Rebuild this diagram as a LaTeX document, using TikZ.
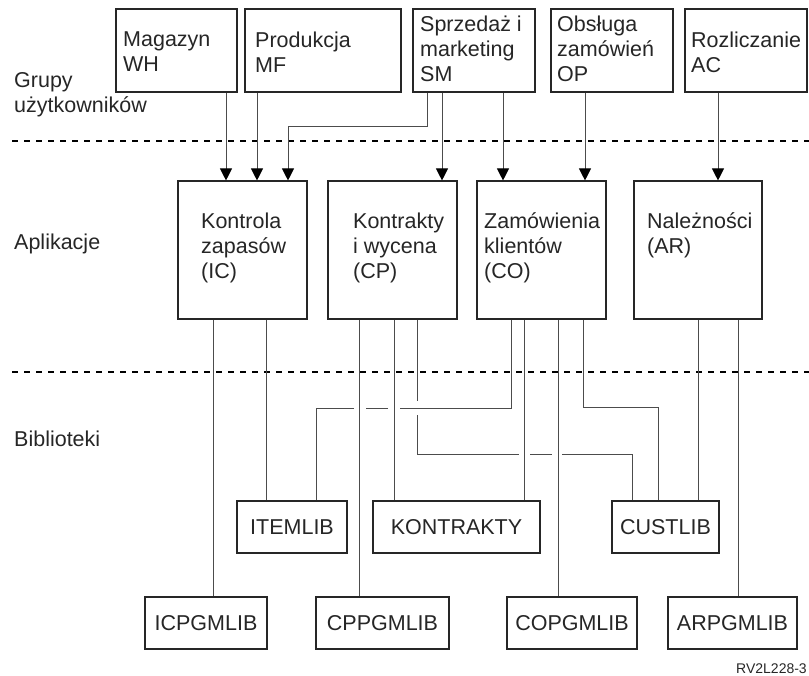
\documentclass[tikz,border=0pt]{standalone}
\usepackage{fontspec}
\setmainfont{Liberation Sans}
\usetikzlibrary{arrows.meta}
\begin{document}
\begin{tikzpicture}[x=1pt,y=-1pt,
  box/.style={draw=black!85, line width=1.1pt, fill=white, inner sep=0pt},
  txt/.style={inner sep=0pt, anchor=north west, align=left, font=\fontsize{21.5}{25}\selectfont, text=black!85},
  lib/.style={box, font=\fontsize{21.5}{25}\selectfont, text=black!85},
  conn/.style={draw=black!70, line width=1pt},
  arr/.style={conn, -{Triangle[width=12pt,length=12pt,color=black]}},
  sep/.style={draw=black, line width=1.3pt, dash pattern=on 6pt off 6pt}]
\useasboundingbox (0,0) rectangle (809,676);
% separators
\draw[sep] (12,141) -- (809,141);
\draw[sep] (12,372) -- (809,372);
% left labels
\node[txt] (lg) at (14,72.5) {Grupy\\użytkowników};
\node[txt] (la) at (14,233.5) {Aplikacje};
\node[txt] (lb) at (14,430.5) {Biblioteki};
% x positions
\coordinate (xwh) at (226,0);
\coordinate (xmf) at (257,0);
\coordinate (xsma) at (427,0);
\coordinate (xsmb) at (288,0);
\coordinate (xsmc) at (442,0);
\coordinate (xsmd) at (503,0);
\coordinate (xop) at (585,0);
\coordinate (xac) at (718,0);
\coordinate (xica) at (213,0);
\coordinate (xicb) at (266,0);
\coordinate (xcpa) at (359,0);
\coordinate (xcpb) at (394,0);
\coordinate (xcpc) at (417,0);
\coordinate (xcpd) at (632,0);
\coordinate (xcoa) at (511,0);
\coordinate (xcob) at (316,0);
\coordinate (xcoc) at (524,0);
\coordinate (xcod) at (558,0);
\coordinate (xcoe) at (583,0);
\coordinate (xcof) at (658,0);
\coordinate (xara) at (698,0);
\coordinate (xarb) at (738,0);
% boxes: user groups
\node[box, minimum width=121pt, minimum height=83pt] (wh) at (176.5,50.5) {};
\node[box, minimum width=156pt, minimum height=83pt] (mf) at (323,50.5) {};
\node[box, minimum width=122pt, minimum height=83pt] (sm) at (474,50.5) {};
\node[box, minimum width=122pt, minimum height=83pt] (op) at (612,50.5) {};
\node[box, minimum width=122pt, minimum height=83pt] (ac) at (746,50.5) {};
% applications
\node[box, minimum width=129pt, minimum height=138pt] (ic) at (242.5,250) {};
\node[box, minimum width=129pt, minimum height=138pt] (cp) at (392.5,250) {};
\node[box, minimum width=129pt, minimum height=138pt] (co) at (541.5,250) {};
\node[box, minimum width=128pt, minimum height=138pt] (ar) at (698,250) {};
% libraries
\node[lib, minimum width=110pt, minimum height=52pt] (itemlib) at (292,527) {ITEMLIB};
\node[lib, minimum width=167pt, minimum height=52pt] (kontrakty) at (456.5,527) {KONTRAKTY};
\node[lib, minimum width=107pt, minimum height=52pt] (custlib) at (665.5,527) {CUSTLIB};
\node[lib, minimum width=122pt, minimum height=52pt] (icpgmlib) at (206,623) {ICPGMLIB};
\node[lib, minimum width=133pt, minimum height=52pt] (cppgmlib) at (382.5,623) {CPPGMLIB};
\node[lib, minimum width=130pt, minimum height=52pt] (copgmlib) at (572,623) {COPGMLIB};
\node[lib, minimum width=129pt, minimum height=52pt] (arpgmlib) at (732.5,623) {ARPGMLIB};
% box texts
\node[txt] (twh) at (123,31.5) {Magazyn\\WH};
\node[txt] (tmf) at (255,31.5) {Produkcja\\MF};
\node[txt] (tsm) at (420,16.2) {Sprzedaż i\\marketing\\SM};
\node[txt] (top) at (557,16.2) {Obsługa\\zamówień\\OP};
\node[txt] (tac) at (691,31.5) {Rozliczanie\\AC};
\node[txt] (tic) at (201,212.5) {Kontrola\\zapasów\\(IC)};
\node[txt] (tcp) at (353,212.5) {Kontrakty\\i wycena\\(CP)};
\node[txt] (tco) at (484,212.5) {Zamówienia\\klientów\\(CO)};
\node[txt] (tar) at (647,212.5) {Należności\\(AR)};
% arrows
\draw[arr] (wh.south -| xwh) -- (ic.north -| xwh);
\draw[arr] (mf.south -| xmf) -- (ic.north -| xmf);
\draw[arr] (sm.south -| xsma) -- (427,127) -- (288,127) -- (ic.north -| xsmb);
\draw[arr] (sm.south -| xsmc) -- (cp.north -| xsmc);
\draw[arr] (sm.south -| xsmd) -- (co.north -| xsmd);
\draw[arr] (op.south -| xop) -- (co.north -| xop);
\draw[arr] (ac.south -| xac) -- (ar.north -| xac);
% lower connectors
\draw[conn] (ic.south -| xica) -- (icpgmlib.north -| xica);
\draw[conn] (ic.south -| xicb) -- (itemlib.north -| xicb);
\draw[conn] (cp.south -| xcpa) -- (cppgmlib.north -| xcpa);
\draw[conn] (cp.south -| xcpb) -- (kontrakty.north -| xcpb);
\draw[conn] (cp.south -| xcpc) -- (417,401);
\draw[conn] (417,415) -- (417,454) -- (519,454);
\draw[conn] (530,454) -- (552,454);
\draw[conn] (562,454) -- (632,454) -- (custlib.north -| xcpd);
\draw[conn] (co.south -| xcoa) -- (511,408) -- (400,408);
\draw[conn] (388,408) -- (366,408);
\draw[conn] (354,408) -- (316,408) -- (itemlib.north -| xcob);
\draw[conn] (co.south -| xcoc) -- (kontrakty.north -| xcoc);
\draw[conn] (co.south -| xcod) -- (copgmlib.north -| xcod);
\draw[conn] (co.south -| xcoe) -- (583,407) -- (658,407) -- (custlib.north -| xcof);
\draw[conn] (ar.south -| xara) -- (custlib.north -| xara);
\draw[conn] (ar.south -| xarb) -- (arpgmlib.north -| xarb);
% figure id
\node[inner sep=0pt, anchor=base west, font=\fontsize{14}{16}\selectfont, text=black!85] (fid) at (736,673) {RV2L228-3};
\end{tikzpicture}
\end{document}
